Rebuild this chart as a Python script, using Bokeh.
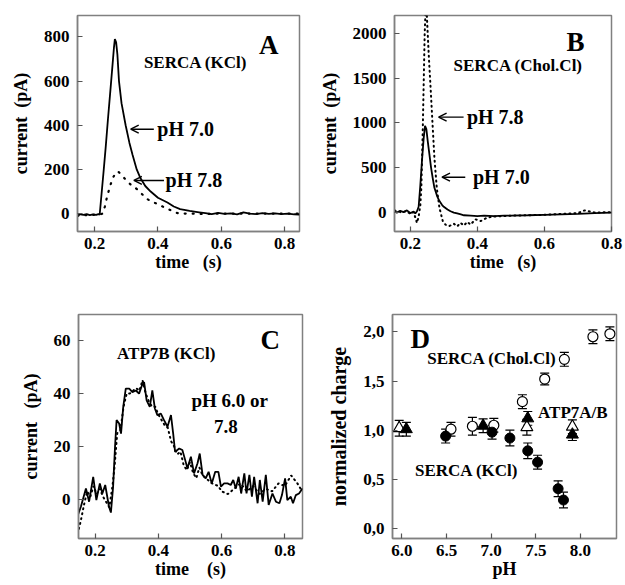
from bokeh.plotting import figure
from bokeh.layouts import column, row
from bokeh.models import (Range1d, FixedTicker, Arrow, OpenHead, Label, Whisker,
                          ColumnDataSource, PrintfTickFormatter, CustomJSTickFormatter, TeeHead)
from bokeh.embed import file_html
from bokeh.resources import INLINE

# ---------------- Panel A : SERCA (KCl) ----------------
a_t = [0.146,0.155,0.165,0.175,0.185,0.195,0.205,0.212,0.216,0.222,0.228,0.235,0.242,0.250,0.257,0.261,0.264,0.268,0.272,0.277,0.285,0.298,0.310,0.320,0.333,0.345,0.360,0.377,0.400,0.430,0.450,0.470,0.500,0.530,0.550,0.570,0.590,0.610,0.630,0.650,0.670,0.690,0.710,0.730,0.750,0.770,0.790,0.810,0.830,0.847]
a_ph70 = [-8,-3,-6,-2,-7,-4,-6,-2,-5,90,185,300,425,560,680,750,790,775,720,600,500,400,320,265,200,160,125,100,72,50,32,20,12,6,2,-2,3,-1,1,-3,6,0,-2,2,-1,1,-2,0,-3,-4]
a_t2 = [0.146,0.160,0.180,0.200,0.215,0.225,0.232,0.240,0.250,0.260,0.268,0.274,0.283,0.298,0.315,0.335,0.350,0.366,0.380,0.398,0.415,0.430,0.445,0.457,0.470,0.500,0.550,0.600,0.700,0.800,0.847]
a_ph78 = [-10,-5,-8,-5,-5,0,30,80,130,168,185,191,178,154,130,110,88,66,55,44,32,22,12,4,0,0,-2,0,0,0,0]
a_xticks = [0.2, 0.4, 0.6, 0.8]
a_yticks = [0, 200, 400, 600, 800]

# ---------------- Panel B : SERCA (Chol.Cl) ----------------
b_t = [0.153,0.160,0.170,0.180,0.190,0.200,0.210,0.215,0.220,0.225,0.230,0.235,0.240,0.244,0.248,0.252,0.257,0.262,0.267,0.272,0.280,0.287,0.295,0.300,0.311,0.320,0.330,0.340,0.351,0.360,0.380,0.400,0.420,0.450,0.480,0.500,0.550,0.600,0.650,0.700,0.750,0.800]
b_ph70 = [10,-5,15,0,20,-10,5,-15,10,60,300,580,830,967,930,800,650,500,380,273,180,124,80,60,30,10,-5,-15,-26,-35,-40,-45,-40,-45,-40,-38,-35,-30,-25,-20,-10,-5]
b_t2 = [0.153,0.170,0.190,0.200,0.210,0.215,0.220,0.225,0.230,0.233,0.237,0.240,0.243,0.247,0.252,0.256,0.260,0.267,0.272,0.279,0.287,0.297,0.305,0.316,0.330,0.340,0.350,0.360,0.370,0.380,0.394,0.410,0.430,0.450,0.500,0.550,0.600,0.650,0.700,0.720,0.750,0.800]
b_ph78 = [20,0,10,-20,0,-60,-120,-50,80,273,874,1436,2000,2400,2000,1700,1436,948,610,273,48,-100,-140,-157,-130,-160,-120,-150,-110,-140,-80,-100,-60,-50,-40,-35,-30,-20,-10,20,-5,0]
b_xticks = [0.2, 0.4, 0.6, 0.8]
b_yticks = [0, 500, 1000, 1500, 2000]

# ---------------- Panel C : ATP7B (KCl) ----------------
c_t = [0.144,0.155,0.171,0.181,0.194,0.204,0.215,0.223,0.232,0.244,0.250,0.257,0.263,0.268,0.276,0.282,0.289,0.297,0.308,0.318,0.329,0.339,0.348,0.355,0.363,0.373,0.381,0.389,0.397,0.408,0.418,0.429,0.440,0.447,0.453,0.466,0.476,0.485,0.492,0.503,0.513,0.524,0.531,0.540,0.550,0.559,0.569,0.580,0.590,0.598,0.608,0.619,0.629,0.637,0.645,0.654,0.662,0.672,0.679,0.688,0.696,0.703,0.714,0.721,0.730,0.740,0.749,0.761,0.772,0.783,0.791,0.801,0.808,0.819,0.826,0.835,0.845,0.856]
c_ph60 = [-6.5,-2.8,4.1,-0.9,8.5,-0.3,6.0,2.2,5.4,-2.8,-5.0,4.8,19.8,29.9,28.6,24.8,34.9,41.8,41.8,40.5,41.1,39.9,43.0,44.3,37.4,34.9,41.1,34.3,31.8,32.4,29.9,27.4,31.8,24.8,17.9,19.2,18.6,14.8,11.7,16.1,9.8,13.6,17.3,9.2,7.9,10.4,6.0,10.4,10.4,4.8,6.0,6.0,5.4,7.3,4.1,8.5,2.2,9.8,2.2,9.2,1.0,8.5,-1.5,7.3,-0.9,9.2,-2.1,2.2,-0.9,-1.5,1.6,7.9,-0.3,1.0,-1.5,1.6,2.2,4.1]
c_t2 = [0.145,0.155,0.165,0.175,0.185,0.195,0.205,0.215,0.225,0.235,0.245,0.255,0.262,0.270,0.280,0.290,0.300,0.310,0.320,0.330,0.340,0.350,0.360,0.370,0.380,0.390,0.400,0.410,0.420,0.430,0.440,0.450,0.460,0.470,0.480,0.490,0.500,0.510,0.520,0.530,0.540,0.550,0.570,0.590,0.600,0.620,0.640,0.660,0.680,0.700,0.720,0.740,0.760,0.780,0.800,0.820,0.840,0.855]
c_ph78 = [-13,-8,-2,3,1,5,2,4,1,-1,-3,5,13,25,26,35,40,40,41,42,41,45,40,37,35,35,32,30,28,27,22,20,17,18,13,11,14,10,8,12,9,8,6,5,3,2,4,6,3,5,2,4,3,6,5,9,6,3]
c_xticks = [0.2, 0.4, 0.6, 0.8]
c_yticks = [0, 20, 40, 60]

# ---------------- Panel D : normalized charge vs pH ----------------
d_kcl_ph = [6.49, 7.01, 7.21, 7.41, 7.52, 7.75, 7.81]
d_kcl_q = [0.94, 0.98, 0.92, 0.79, 0.675, 0.405, 0.29]
d_kcl_err = [0.07, 0.07, 0.08, 0.08, 0.07, 0.08, 0.08]
d_chol_ph = [6.55, 6.79, 7.03, 7.35, 7.60, 7.82, 8.14, 8.33]
d_chol_q = [1.01, 1.04, 1.05, 1.29, 1.52, 1.72, 1.95, 1.98]
d_chol_err = [0.07, 0.09, 0.07, 0.07, 0.06, 0.07, 0.07, 0.07]
d_atp_open_ph = [5.97, 7.40, 7.91]
d_atp_open_q = [1.02, 1.03, 1.035]
d_atp_open_err = [0.08, 0.08, 0.07]
d_atp_fill_ph = [6.05, 6.91, 7.41, 7.91]
d_atp_fill_q = [1.01, 1.045, 1.12, 0.955]
d_atp_fill_err = [0.07, 0.07, 0.07, 0.06]
d_xticks = [6.0, 6.5, 7.0, 7.5, 8.0]
d_yticks = [0.0, 0.5, 1.0, 1.5, 2.0]

FONT = "Liberation Serif"
FRAME = "#808080"
NB = "\u00a0"


def make_fig(w, h, xr, yr, borders, xticks, yticks, xlabel, ylabel, xfmt, yfmt):
    p = figure(width=w, height=h, x_range=Range1d(*xr), y_range=Range1d(*yr),
               output_backend="svg", toolbar_location=None, tools="")
    p.min_border_left, p.min_border_right, p.min_border_top, p.min_border_bottom = borders
    p.xgrid.visible = False
    p.ygrid.visible = False
    p.outline_line_color = FRAME
    p.outline_line_width = 1.5
    p.background_fill_color = "white"
    p.border_fill_color = "white"
    p.xaxis.ticker = FixedTicker(ticks=xticks)
    p.yaxis.ticker = FixedTicker(ticks=yticks)
    p.xaxis.formatter = xfmt
    p.yaxis.formatter = yfmt
    p.xaxis.axis_label = xlabel
    p.yaxis.axis_label = ylabel
    for ax in (p.xaxis, p.yaxis):
        ax.axis_line_color = FRAME
        ax.axis_line_width = 1.5
        ax.major_tick_in = 5
        ax.major_tick_out = 0
        ax.major_tick_line_color = "#555555"
        ax.major_tick_line_width = 1.2
        ax.minor_tick_line_color = None
        ax.major_label_text_font = FONT
        ax.major_label_text_font_style = "bold"
        ax.major_label_text_font_size = "17px"
        ax.major_label_text_color = "black"
        ax.axis_label_text_font = FONT
        ax.axis_label_text_font_style = "bold"
        ax.axis_label_text_font_size = "18px"
        ax.axis_label_text_color = "black"
    p.xaxis.major_label_standoff = 6
    p.xaxis.axis_label_standoff = 0
    p.yaxis.major_label_standoff = 8
    p.yaxis.axis_label_standoff = 10
    return p


def lab(p, x, y, text, size, align="center", baseline="middle"):
    p.add_layout(Label(x=x, y=y, text=text, text_font=FONT, text_font_style="bold",
                       text_font_size=size, text_color="black",
                       text_align=align, text_baseline=baseline))


def arrow(p, x0, x1, y):
    p.add_layout(Arrow(end=OpenHead(size=8, line_width=1.4, line_color="black"),
                       x_start=x0, y_start=y, x_end=x1, y_end=y,
                       line_width=1.4, line_color="black"))


f1 = PrintfTickFormatter(format="%.1f")
fint = PrintfTickFormatter(format="%d")

# Panel A
pA = make_fig(310, 290, (0.146, 0.847), (-81, 897), (77, 11, 13, 55),
              a_xticks, a_yticks, "time" + NB * 3 + "(s)", "current" + NB * 2 + "(pA)", f1, fint)
pA.line(a_t2, a_ph78, line_color="black", line_width=2.2, line_dash="1 7", line_cap="round")
pA.line(a_t, a_ph70, line_color="black", line_width=1.8)
lab(pA, 0.750, 765, "A", "27px")
lab(pA, 0.519, 682, "SERCA (KCl)", "17px")
lab(pA, 0.398, 382, "pH 7.0", "20px", align="left")
arrow(pA, 0.387, 0.314, 382)
lab(pA, 0.424, 150, "pH 7.8", "20px", align="left")
arrow(pA, 0.419, 0.324, 150)

# Panel B
pB = make_fig(315, 290, (0.153, 0.8), (-217, 2205), (84, 14, 15, 59),
              b_xticks, b_yticks, "time" + NB * 3 + "(s)", "current" + NB * 2 + "(pA)", f1, fint)
pB.line(b_t2, b_ph78, line_color="black", line_width=2, line_dash="1 4", line_cap="round")
pB.line(b_t, b_ph70, line_color="black", line_width=1.8)
lab(pB, 0.693, 1906, "B", "27px")
lab(pB, 0.522, 1645, "SERCA (Chol.Cl)", "17px")
lab(pB, 0.369, 1065, "pH 7.8", "20px", align="left")
arrow(pB, 0.359, 0.2845, 1065)
lab(pB, 0.387, 392, "pH 7.0", "20px", align="left")
arrow(pB, 0.364, 0.2946, 392)

# Panel C
pC = make_fig(310, 295, (0.1475, 0.856), (-14.8, 69.8), (78, 8, 24, 47),
              c_xticks, c_yticks, "time" + NB * 4 + "(s)", "current" + NB * 3 + "(pA)", f1, fint)
pC.line(c_t2, c_ph78, line_color="black", line_width=2, line_dash="1 4", line_cap="round")
pC.line(c_t, c_ph60, line_color="black", line_width=1.8)
lab(pC, 0.754, 60, "C", "27px")
lab(pC, 0.425, 55, "ATP7B (KCl)", "17px")
lab(pC, 0.626, 37.4, "pH 6.0 or", "19px")
lab(pC, 0.614, 27.6, "7.8", "19px")

# Panel D
comma = CustomJSTickFormatter(code="return tick.toFixed(1).replace('.', ',');")
pD = make_fig(315, 295, (5.895, 8.404), (-0.101, 2.176), (82, 9, 23, 47),
              d_xticks, d_yticks, "pH", "normalized charge", f1, comma)
pD.yaxis.axis_label_text_font_size = "20px"


def errbars(p, xs, ys, es):
    src = ColumnDataSource(dict(x=xs, lo=[y - e for y, e in zip(ys, es)], hi=[y + e for y, e in zip(ys, es)]))
    p.add_layout(Whisker(source=src, base="x", lower="lo", upper="hi", line_color="black", line_width=1.2,
                         upper_head=TeeHead(size=9, line_width=1.2, line_color="black"),
                         lower_head=TeeHead(size=9, line_width=1.2, line_color="black")))


errbars(pD, d_chol_ph, d_chol_q, d_chol_err)
errbars(pD, d_atp_open_ph, d_atp_open_q, d_atp_open_err)
errbars(pD, d_kcl_ph, d_kcl_q, d_kcl_err)
errbars(pD, d_atp_fill_ph, d_atp_fill_q, d_atp_fill_err)
pD.scatter(d_chol_ph, d_chol_q, marker="circle", size=10, fill_color="white", line_color="black", line_width=1.2)
pD.scatter(d_atp_open_ph, d_atp_open_q, marker="triangle", size=12, fill_color="white", line_color="black", line_width=1.2)
pD.scatter(d_kcl_ph, d_kcl_q, marker="circle", size=10, fill_color="black", line_color="black")
pD.scatter(d_atp_fill_ph, d_atp_fill_q, marker="triangle", size=12, fill_color="black", line_color="black")
lab(pD, 6.205, 1.926, "D", "27px")
lab(pD, 7.009, 1.724, "SERCA (Chol.Cl)", "17px")
lab(pD, 7.915, 1.18, "ATP7A/B", "17px")
lab(pD, 6.726, 0.59, "SERCA (KCl)", "17px")

layout = column(row(pA, pB), row(pC, pD))
open("out.html", "w").write(file_html(layout, INLINE))
